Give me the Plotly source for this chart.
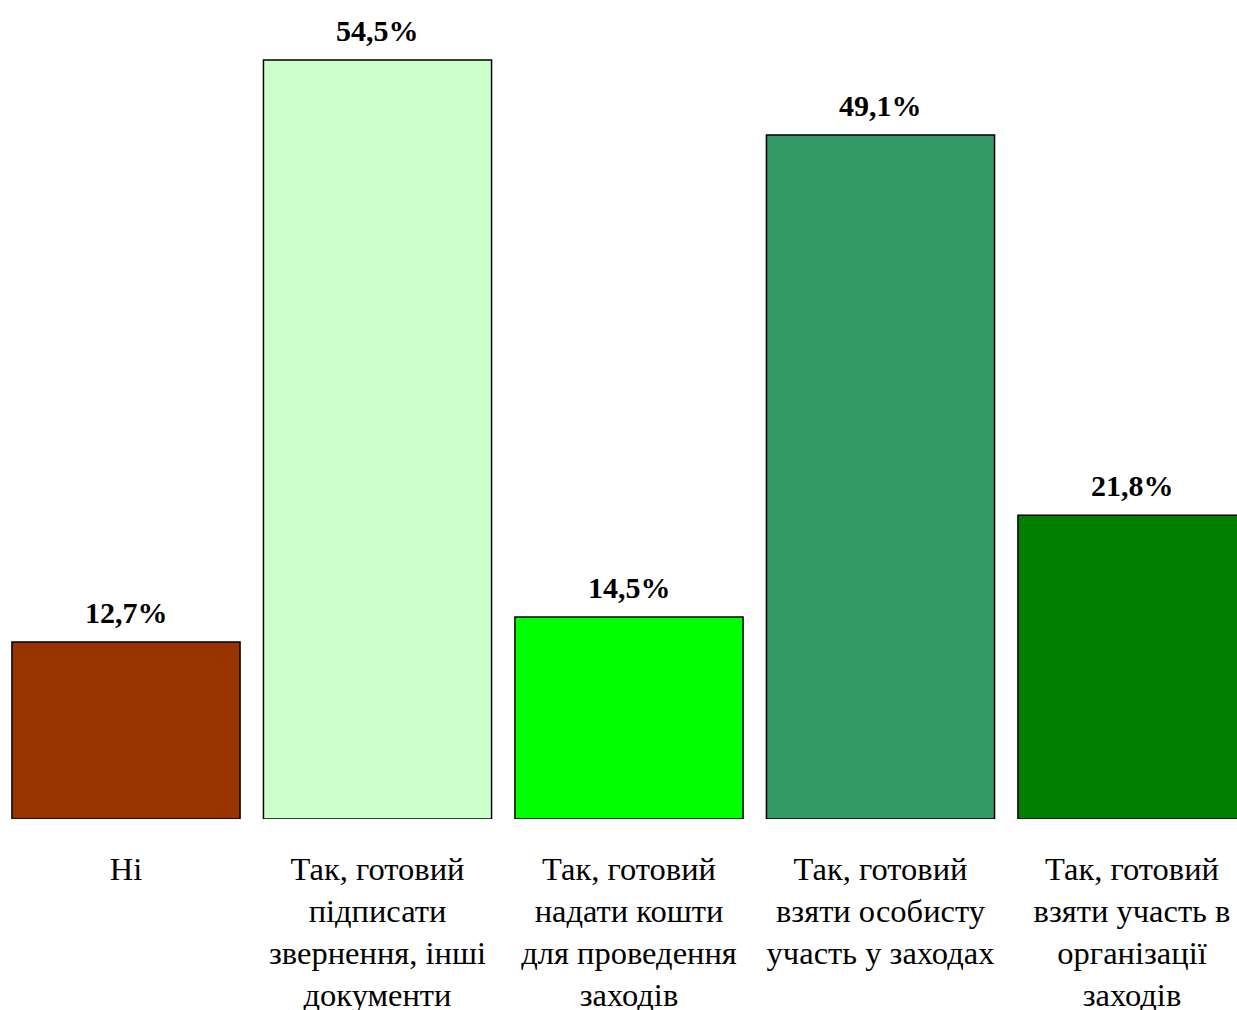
import plotly.graph_objects as go

categories = [
    "Ні",
    "Так, готовий<br>підписати<br>звернення, інші<br>документи",
    "Так, готовий<br>надати кошти<br>для проведення<br>заходів",
    "Так, готовий<br>взяти особисту<br>участь у заходах",
    "Так, готовий<br>взяти участь в<br>організації<br>заходів",
]
values = [12.7, 54.5, 14.5, 49.1, 21.8]
value_labels = ["12,7%", "54,5%", "14,5%", "49,1%", "21,8%"]
colors = ["#993300", "#CCFFCC", "#00FF00", "#339966", "#008000"]

x_idx = list(range(len(categories)))

fig = go.Figure()
fig.add_trace(go.Bar(
    x=x_idx, y=values,
    marker=dict(color=colors, line=dict(color="black", width=1.5)),
    hoverinfo="skip",
))

for xi, v, t in zip(x_idx, values, value_labels):
    fig.add_annotation(
        x=xi, y=v, text="<b>" + t + "</b>", showarrow=False,
        yanchor="bottom", yshift=11,
        font=dict(family="Liberation Serif", size=30, color="black"),
    )

fig.update_layout(
    width=1237, height=1010,
    margin=dict(l=0, r=0, t=0, b=191),
    plot_bgcolor="white", paper_bgcolor="white",
    bargap=0.093,
    showlegend=False,
    xaxis=dict(
        range=[-0.501, 4.4175],
        tickmode="array", tickvals=x_idx, ticktext=categories,
        showgrid=False, zeroline=False, showline=False, ticks="",
        tickfont=dict(family="Liberation Serif", size=32.5, color="black"),
        ticklabelstandoff=27,
        automargin=False,
    ),
    yaxis=dict(
        range=[0, 58.8], visible=False, showgrid=False, zeroline=False,
        automargin=False,
    ),
)

fig.write_html(
    "out.html",
    config={"displayModeBar": False},
    post_script="document.body.style.margin='0';document.body.style.overflow='hidden';",
)
